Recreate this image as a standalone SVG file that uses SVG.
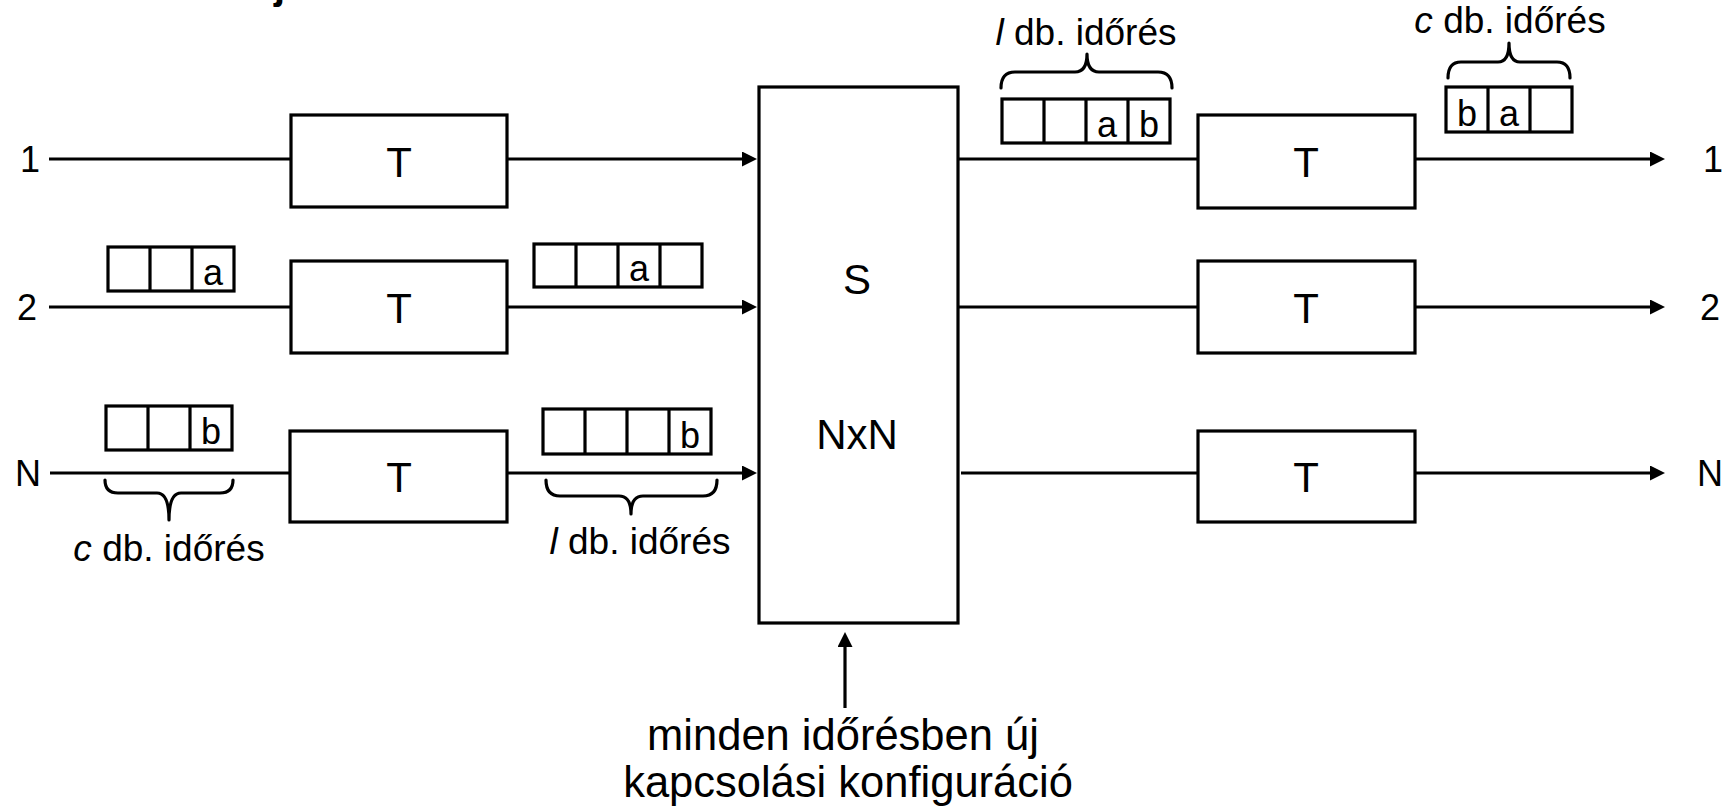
<svg xmlns="http://www.w3.org/2000/svg" width="1724" height="810" viewBox="0 0 1724 810">
<style>
text{font-family:"Liberation Sans",Arial,sans-serif;fill:#000}
.lbl{font-size:36px;text-anchor:middle}
.t{font-size:42px;text-anchor:middle}
.br{font-size:37px;text-anchor:middle}
.cell{font-size:36px;text-anchor:middle}
.bottom{font-size:43.5px;text-anchor:middle}
.box{fill:#fff;stroke:#000;stroke-width:3.2}
.slot{fill:#fff;stroke:#000;stroke-width:3.2}
.ln{fill:none;stroke:#000;stroke-width:3.2}
.brace{fill:none;stroke:#000;stroke-width:3.2;stroke-linecap:round;stroke-linejoin:round}
</style>
<defs>
<marker id="arr" viewBox="0 0 15 15" refX="0" refY="7.5" markerWidth="15" markerHeight="15" markerUnits="userSpaceOnUse" orient="auto">
<path d="M0,0 L15,7.5 L0,15 z" fill="#000"/>
</marker>
</defs>
<rect width="1724" height="810" fill="#fff"/>
<text x="274" y="-1" style="font-size:40px;font-weight:bold">j</text>

<g id="connectors">
<path class="ln" d="M49,159 H291"/>
<path class="ln" d="M507,159 H742" marker-end="url(#arr)"/>
<path class="ln" d="M49,307 H291"/>
<path class="ln" d="M507,307 H742" marker-end="url(#arr)"/>
<path class="ln" d="M50,473 H290"/>
<path class="ln" d="M507,473 H742" marker-end="url(#arr)"/>
<path class="ln" d="M958,159 H1198"/>
<path class="ln" d="M1415,159 H1650" marker-end="url(#arr)"/>
<path class="ln" d="M958,307 H1198"/>
<path class="ln" d="M1415,307 H1650" marker-end="url(#arr)"/>
<path class="ln" d="M961,473 H1198"/>
<path class="ln" d="M1415,473 H1650" marker-end="url(#arr)"/>
<path class="ln" d="M845,708 V647" marker-end="url(#arr)"/>
</g>

<g id="in-labels">
<text class="lbl" x="30" y="172">1</text>
<text class="lbl" x="27" y="320">2</text>
<text class="lbl" x="28" y="486">N</text>
</g>
<g id="out-labels">
<text class="lbl" x="1713" y="172">1</text>
<text class="lbl" x="1710" y="320">2</text>
<text class="lbl" x="1710" y="486">N</text>
</g>

<g id="t-in-1"><rect class="box" x="291" y="115" width="216" height="92"/><text class="t" x="399" y="177">T</text></g>
<g id="t-in-2"><rect class="box" x="291" y="261" width="216" height="92"/><text class="t" x="399" y="323">T</text></g>
<g id="t-in-N"><rect class="box" x="290" y="431" width="217" height="91"/><text class="t" x="399" y="492">T</text></g>
<g id="t-out-1"><rect class="box" x="1198" y="115" width="217" height="93"/><text class="t" x="1306" y="177">T</text></g>
<g id="t-out-2"><rect class="box" x="1198" y="261" width="217" height="92"/><text class="t" x="1306" y="323">T</text></g>
<g id="t-out-N"><rect class="box" x="1198" y="431" width="217" height="91"/><text class="t" x="1306" y="492">T</text></g>

<g id="s-switch">
<rect class="box" x="759" y="87" width="199" height="536"/>
<text class="t" x="857" y="294">S</text>
<text class="t" x="857" y="449">NxN</text>
</g>

<g id="slots-in-2">
<rect class="slot" x="108" y="247" width="126" height="44"/>
<path class="ln" d="M150,247 V291 M192,247 V291"/>
<text class="cell" x="213" y="285">a</text>
</g>
<g id="slots-mid-2">
<rect class="slot" x="534" y="244" width="168" height="43"/>
<path class="ln" d="M576,244 V287 M618,244 V287 M660,244 V287"/>
<text class="cell" x="639" y="281">a</text>
</g>
<g id="slots-in-N">
<rect class="slot" x="106" y="406" width="126" height="44"/>
<path class="ln" d="M148,406 V450 M190,406 V450"/>
<text class="cell" x="211" y="444">b</text>
</g>
<g id="slots-mid-N">
<rect class="slot" x="543" y="409" width="168" height="45"/>
<path class="ln" d="M585,409 V454 M627,409 V454 M669,409 V454"/>
<text class="cell" x="690" y="448">b</text>
</g>
<g id="slots-out-S">
<rect class="slot" x="1002" y="99" width="168" height="44"/>
<path class="ln" d="M1044,99 V143 M1086,99 V143 M1128,99 V143"/>
<text class="cell" x="1107" y="137">a</text>
<text class="cell" x="1149" y="137">b</text>
</g>
<g id="slots-out-1">
<rect class="slot" x="1446" y="87" width="126" height="45"/>
<path class="ln" d="M1488,87 V132 M1530,87 V132"/>
<text class="cell" x="1467" y="126">b</text>
<text class="cell" x="1509" y="126">a</text>
</g>

<g id="brace-in-N">
<path class="brace" d="M105,480 Q105,493 118,493 H157 Q169,493 169,520 Q169,493 181,493 H220 Q233,493 233,480"/>
<text class="br" x="169" y="561"><tspan font-style="italic">c</tspan> db. időrés</text>
</g>
<g id="brace-mid-N">
<path class="brace" d="M546,480 Q546,496 560,496 H619 Q631,496 631,514 Q631,496 643,496 H703 Q717,496 717,480"/>
<text class="br" x="640" y="554"><tspan font-style="italic">l</tspan> db. időrés</text>
</g>
<g id="brace-out-S">
<path class="brace" d="M1001,88 Q1001,72 1015,72 H1075 Q1087,72 1087,54 Q1087,72 1099,72 H1158 Q1172,72 1172,88"/>
<text class="br" x="1086" y="45"><tspan font-style="italic">l</tspan> db. időrés</text>
</g>
<g id="brace-out-1">
<path class="brace" d="M1448,78 Q1448,62 1461,62 H1498 Q1509,62 1509,43 Q1509,62 1520,62 H1557 Q1570,62 1570,78"/>
<text class="br" x="1510" y="33"><tspan font-style="italic">c</tspan> db. időrés</text>
</g>

<g id="control-label">
<text class="bottom" x="843" y="750">minden időrésben új</text>
<text class="bottom" x="848" y="797">kapcsolási konfiguráció</text>
</g>
</svg>
